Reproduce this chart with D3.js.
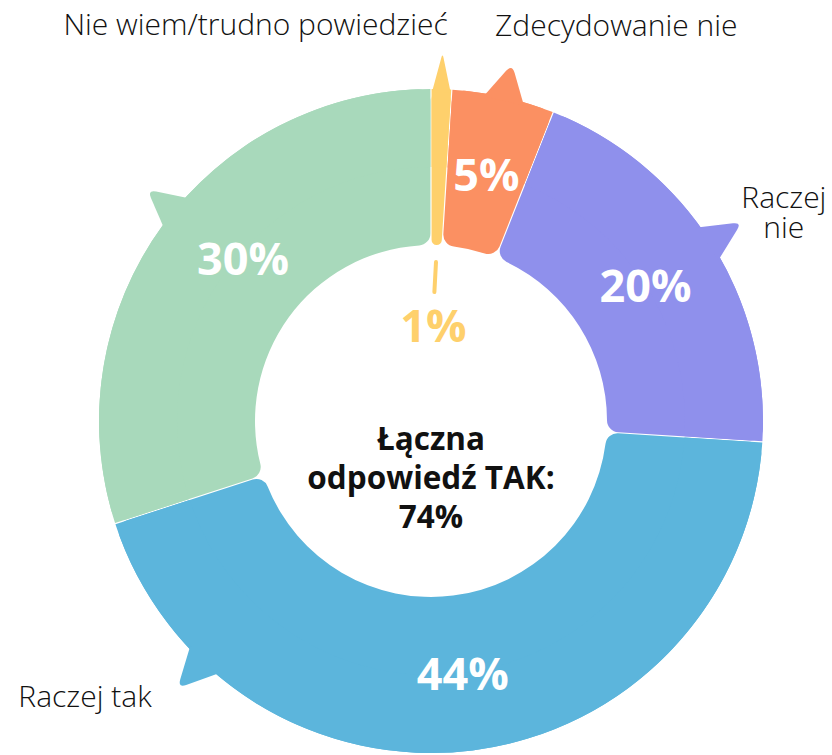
<!DOCTYPE html>
<html>
<head>
<meta charset="utf-8">
<script src="https://cdn.jsdelivr.net/npm/d3@7"></script>
<style>
  body { margin: 0; background: #fff; }
  svg { display: block; font-family: "Open Sans", sans-serif; }
</style>
</head>
<body>
<svg id="chart" width="832" height="755"></svg>
<script>
// data
var categories = ["Nie wiem/trudno powiedzieć", "Zdecydowanie nie", "Raczej nie", "Raczej tak", "Zdecydowanie tak"];
var values = [1, 5, 20, 44, 30];
var colors = ["#fed06c", "#fb9062", "#8f90ec", "#5cb5dc", "#a8d9bb"];
var legendText = [["Nie wiem/trudno powiedzieć"], ["Zdecydowanie nie"], ["Raczej", "nie"], ["Raczej tak"], []];
var totalYes = 74;

var width = 832, height = 755;
var cx = 431, cy = 421;
var R = 332, r0 = 176;
var deg = Math.PI / 180;

// tail = angle of the pointer (deg, null = whole slice), tip radius
var tails = [
  {angle: null, half: null, tip: 368},
  {angle: 12.8, half: 3.6, tip: 366},
  {angle: 57.4, half: 3.4, tip: 369},
  {angle: 223.5, half: 3.5, tip: 368},
  {angle: 309.2, half: 3.4, tip: 366}
];
// label placement relative to tail tip
var labelPos = [
  {dx: -187, dy: -18, anchor: "middle"},
  {dx: -17, dy: -28, anchor: "start"},
  {dx: 42, dy: -14, anchor: "middle"},
  {dx: -26, dy: 19, anchor: "end"},
  {dx: 0, dy: 0, anchor: "middle"}
];

var svg = d3.select("#chart");
var g = svg.append("g").attr("transform", "translate(" + cx + "," + cy + ")");

var pie = d3.pie().sort(null).value(function(d) { return d; });
var arcs = pie(values);

var padR = R;
var arcRound = d3.arc().innerRadius(r0).outerRadius(R).cornerRadius(12).padAngle(0.0035).padRadius(padR);
var arcOuter = d3.arc().innerRadius((r0 + R) / 2).outerRadius(R).padAngle(0.0035).padRadius(padR);

function pt(a, r) { return [r * Math.sin(a), -r * Math.cos(a)]; }

function tailPath(d, i) {
  var t = tails[i];
  var aL, aR, aT;
  if (t.angle === null) {
    aL = d.startAngle + 0.003; aR = d.endAngle - 0.003; aT = (d.startAngle + d.endAngle) / 2;
  } else {
    aL = (t.angle - t.half) * deg; aR = (t.angle + t.half) * deg; aT = t.angle * deg;
  }
  var b1 = pt(aL, R - 3), b2 = pt(aR, R - 3), T = pt(aT, t.tip);
  function toward(p, k) {
    var dx = p[0] - T[0], dy = p[1] - T[1], l = Math.sqrt(dx * dx + dy * dy);
    return [T[0] + dx / l * k, T[1] + dy / l * k];
  }
  var k = t.angle === null ? 5 : 9;
  var p1 = toward(b1, k), p2 = toward(b2, k);
  var p = d3.path();
  p.moveTo(b1[0], b1[1]);
  p.lineTo(p1[0], p1[1]);
  p.quadraticCurveTo(T[0], T[1], p2[0], p2[1]);
  p.lineTo(b2[0], b2[1]);
  p.closePath();
  return p.toString();
}

var slice = g.selectAll("g.slice").data(arcs).enter().append("g").attr("class", "slice");
slice.append("path").attr("d", arcRound).attr("fill", function(d, i) { return colors[i]; });
slice.append("path").attr("d", arcOuter).attr("fill", function(d, i) { return colors[i]; });
slice.append("path").attr("d", tailPath).attr("fill", function(d, i) { return colors[i]; });

// percent labels
var labelArc = d3.arc().innerRadius(r0).outerRadius(R);
g.selectAll("text.pct").data(arcs.filter(function(d) { return d.value >= 3; }))
  .enter().append("text")
  .attr("class", "pct")
  .attr("transform", function(d) {
    var c = labelArc.centroid(d);
    if (d.index === 4) { c = pt(311 * deg, 249); }
    return "translate(" + c + ")";
  })
  .attr("text-anchor", "middle")
  .attr("dominant-baseline", "central")
  .attr("fill", "#fff")
  .attr("font-weight", 700)
  .attr("font-size", 45)
  .text(function(d) { return d.value + "%"; });

// small slice label inside the hole
arcs.filter(function(d) { return d.value < 3; }).forEach(function(d) {
  var a = (d.startAngle + d.endAngle) / 2;
  var p1 = pt(a, 159), p2 = pt(a - 0.3 * deg, 129), c = pt(a - 0.4 * deg, 97);
  g.append("line")
    .attr("x1", p1[0]).attr("y1", p1[1]).attr("x2", p2[0]).attr("y2", p2[1])
    .attr("stroke", colors[d.index]).attr("stroke-width", 4).attr("stroke-linecap", "round");
  g.append("text")
    .attr("x", c[0]).attr("y", c[1])
    .attr("text-anchor", "middle")
    .attr("dominant-baseline", "central")
    .attr("fill", colors[d.index])
    .attr("font-weight", 700)
    .attr("font-size", 45)
    .text(d.value + "%");
});

// category labels near tail tips
arcs.forEach(function(d, i) {
  var lines = legendText[i];
  if (!lines.length) return;
  var t = tails[i];
  var aT = t.angle === null ? (d.startAngle + d.endAngle) / 2 : t.angle * deg;
  var T = pt(aT, t.tip);
  var lp = labelPos[i];
  lines.forEach(function(s, j) {
    g.append("text")
      .attr("text-anchor", lp.anchor)
      .attr("fill", "#111")
      .attr("font-weight", 300)
      .attr("font-size", 30)
      .attr("x", T[0] + lp.dx)
      .attr("y", T[1] + lp.dy + j * 30)
      .text(s);
  });
});

// center text
var center = g.append("text")
  .attr("text-anchor", "middle")
  .attr("font-weight", 700)
  .attr("font-size", 31.5)
  .attr("fill", "#111");
["Łączna", "odpowiedź TAK:", totalYes + "%"].forEach(function(s, j) {
  center.append("tspan").attr("x", 0).attr("y", 29 + j * 39).text(s);
});
</script>
</body>
</html>
